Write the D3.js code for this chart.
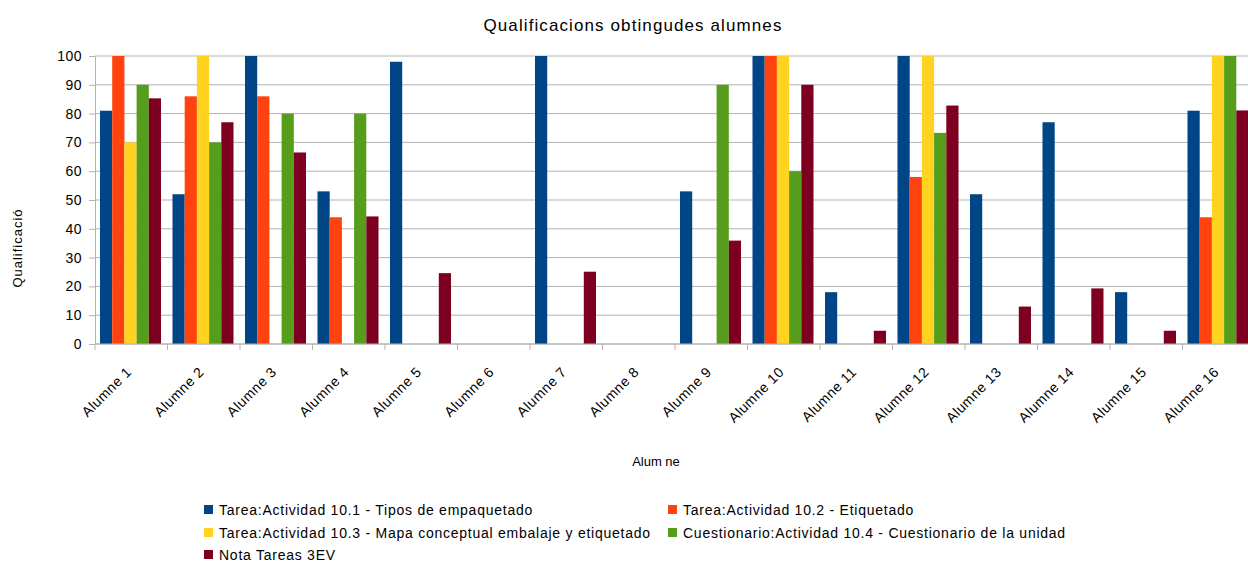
<!DOCTYPE html>
<html>
<head>
<meta charset="utf-8">
<style>
  body { margin: 0; background: #fff; }
  svg { display: block; font-family: "Liberation Sans", Arial, sans-serif; }
  .grid line { stroke: #b3b3b3; stroke-width: 1; }
  .axis path, .axis line { stroke: #b3b3b3; fill: none; }
  .axis text { fill: #000; font-size: 14px; letter-spacing: 0.5px; }
  .xlab { font-size: 14px; letter-spacing: 0.75px; }
</style>
</head>
<body>
<svg class="chart" width="1248" height="562"></svg>
<script src="https://d3js.org/d3.v7.min.js"></script>
<script>
var students = ["Alumne 1","Alumne 2","Alumne 3","Alumne 4","Alumne 5","Alumne 6","Alumne 7","Alumne 8",
                "Alumne 9","Alumne 10","Alumne 11","Alumne 12","Alumne 13","Alumne 14","Alumne 15","Alumne 16"];
var seriesNames = [
  "Tarea:Actividad 10.1 - Tipos de empaquetado",
  "Tarea:Actividad 10.2 - Etiquetado",
  "Tarea:Actividad 10.3 - Mapa conceptual embalaje y etiquetado",
  "Cuestionario:Actividad 10.4 - Cuestionario de la unidad",
  "Nota Tareas 3EV"
];
var act101 = [81, 52, 100, 53, 98, 0, 100, 0, 53, 100, 18, 100, 52, 77, 18, 81];
var act102 = [100, 86, 86, 44, 0, 0, 0, 0, 0, 100, 0, 58, 0, 0, 0, 44];
var act103 = [70, 100, 0, 0, 0, 0, 0, 0, 0, 100, 0, 100, 0, 0, 0, 100];
var act104 = [90, 70, 80, 80, 0, 0, 0, 0, 90, 60, 0, 73.3, 0, 0, 0, 100];
var nota3ev = [85.3, 77, 66.5, 44.3, 24.6, 0, 25.1, 0, 35.9, 90, 4.6, 82.8, 13, 19.3, 4.6, 81.1];
var yTicks = [0, 10, 20, 30, 40, 50, 60, 70, 80, 90, 100];
var colors = ["#004586", "#ff420e", "#ffd320", "#579d1c", "#7e0021"];

var seriesValues = [act101, act102, act103, act104, nota3ev];

var chart = d3.select(".chart");

var x0 = d3.scaleBand().domain(students).range([95, 1255]).padding(0);
var x1 = d3.scaleBand().domain(d3.range(seriesNames.length)).range([5, 66]).padding(0);
var y = d3.scaleLinear().domain([0, 100]).range([344, 56]);

// title
chart.append("text")
  .attr("x", 633).attr("y", 31)
  .attr("text-anchor", "middle")
  .style("font-size", "17px")
  .style("letter-spacing", "1.1px")
  .text("Qualificacions obtingudes alumnes");

// gridlines
chart.append("g").attr("class", "grid")
  .selectAll("line").data(yTicks).enter().append("line")
  .attr("x1", 95).attr("x2", 1255)
  .attr("y1", function(d) { return y(d); })
  .attr("y2", function(d) { return y(d); });

// bars
var groups = chart.selectAll("g.student")
  .data(students).enter().append("g")
  .attr("class", "student")
  .attr("transform", function(d) { return "translate(" + x0(d) + ",0)"; });

groups.selectAll("rect")
  .data(function(d, i) { return seriesValues.map(function(s, k) { return { k: k, v: s[i] }; }); })
  .enter().append("rect")
  .filter(function(d) { return d.v > 0; })
  .attr("x", function(d) { return x1(d.k); })
  .attr("width", x1.bandwidth())
  .attr("y", function(d) { return y(d.v); })
  .attr("height", function(d) { return y(0) - y(d.v); })
  .style("fill", function(d) { return colors[d.k]; });

// y axis
chart.append("g").attr("class", "axis")
  .attr("transform", "translate(95,0)")
  .call(d3.axisLeft(y).tickValues(yTicks).tickSize(6).tickPadding(7).tickSizeOuter(0));

// x axis with ticks on the category boundaries
var xAxis = chart.append("g").attr("class", "axis")
  .attr("transform", "translate(0,344)");
xAxis.append("line").attr("x1", 95).attr("x2", 1255).attr("y1", 0).attr("y2", 0);
xAxis.selectAll("line.tick").data(students).enter().append("line")
  .attr("class", "tick")
  .attr("x1", function(d) { return x0(d); })
  .attr("x2", function(d) { return x0(d); })
  .attr("y1", 0).attr("y2", 6);
xAxis.selectAll("text").data(students).enter().append("text")
  .attr("class", "xlab")
  .attr("text-anchor", "end")
  .attr("transform", function(d) {
    return "translate(" + (x0(d) + x0.bandwidth() / 2 + 1) + ",29) rotate(-45)";
  })
  .text(function(d) { return d; });

// axis titles
chart.append("text")
  .attr("x", 656).attr("y", 466)
  .attr("text-anchor", "middle")
  .style("font-size", "13px")
  .text("Alum ne");

chart.append("text")
  .attr("transform", "translate(22,248) rotate(-90)")
  .attr("text-anchor", "middle")
  .style("font-size", "13px")
  .style("letter-spacing", "1px")
  .text("Qualificació");

// legend
var legendPos = [[204, 510], [668, 510], [204, 533], [668, 533], [204, 555]];
var legend = chart.selectAll("g.legend")
  .data(seriesNames).enter().append("g")
  .attr("class", "legend")
  .attr("transform", function(d, i) { return "translate(" + legendPos[i][0] + "," + legendPos[i][1] + ")"; });
legend.append("rect")
  .attr("x", 0).attr("y", -5)
  .attr("width", 9).attr("height", 9)
  .style("fill", function(d, i) { return colors[i]; });
legend.append("text")
  .attr("x", 15).attr("y", 5)
  .style("font-size", "14px")
  .style("letter-spacing", "0.75px")
  .text(function(d) { return d; });
</script>
</body>
</html>
